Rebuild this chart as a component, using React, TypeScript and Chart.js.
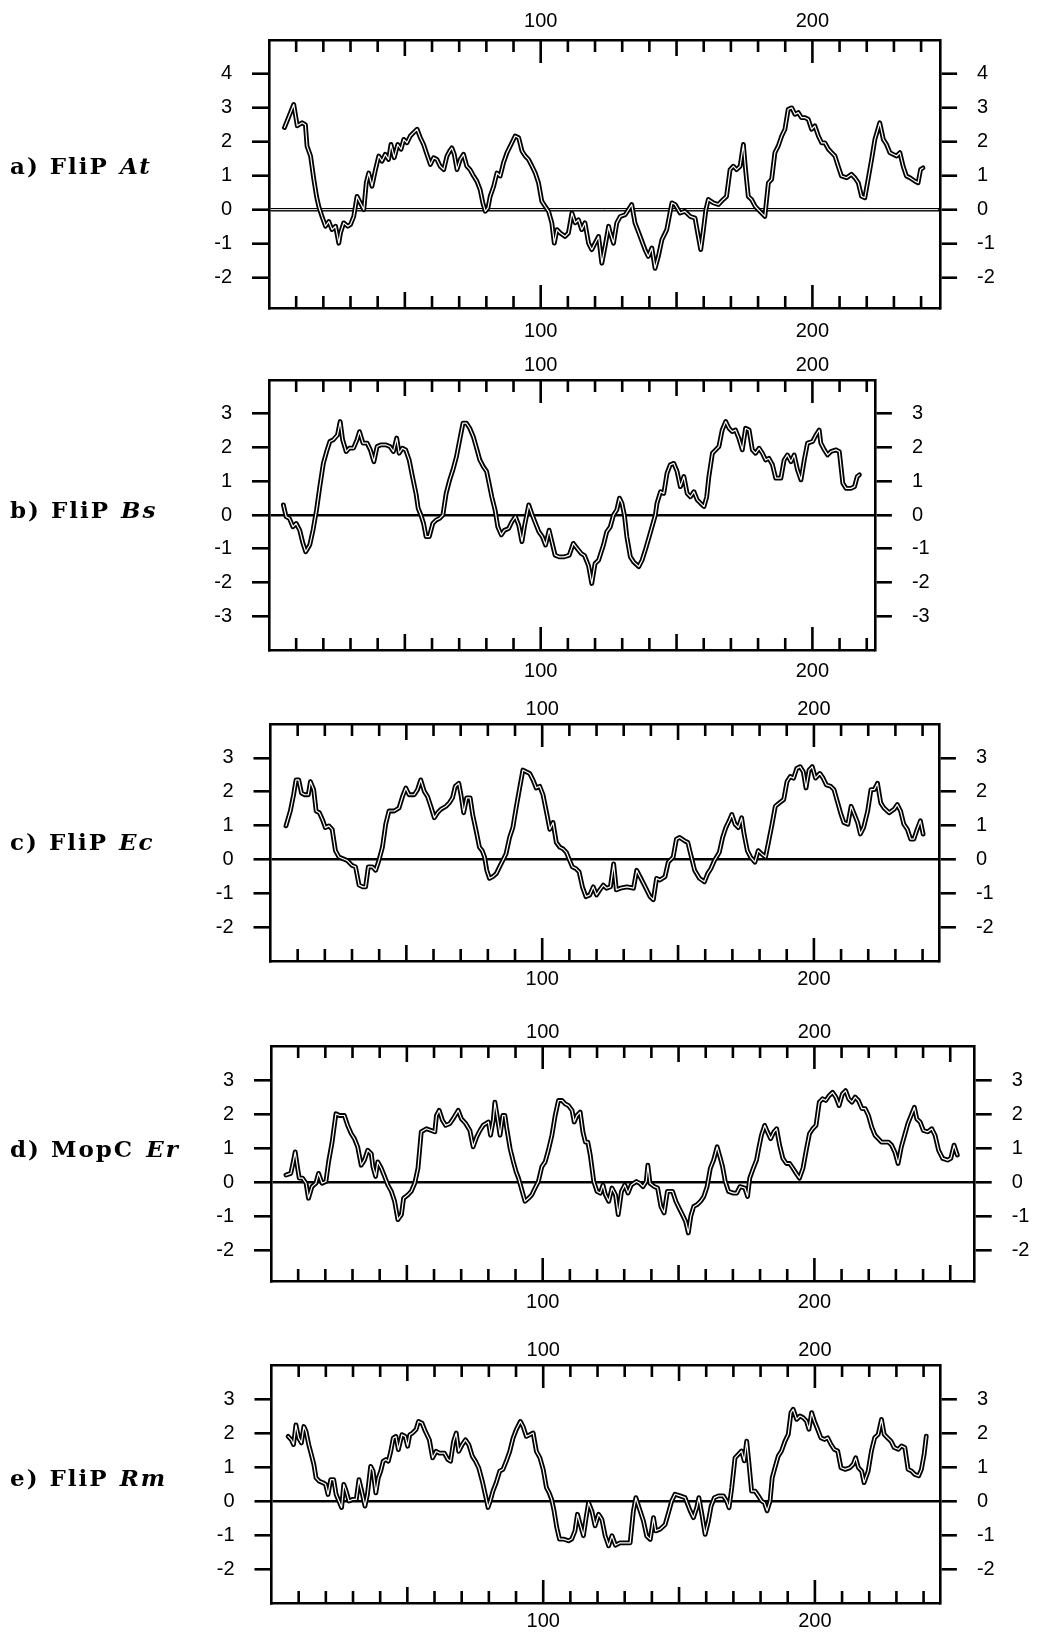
import { useEffect, useRef } from 'react';
import { Chart, registerables } from 'chart.js';

Chart.register(...registerables);

// ---------- data (residue number, hydropathy value) ----------
const aRes = [5.7, 9.1, 10.4, 12.2, 13.4, 14, 15.3, 16.5, 17.5, 18.3, 19.5, 20.8, 22, 23.2, 24.5, 25.7, 26.3, 27.5, 29, 30, 31.2, 32.4, 33.6, 34.9, 35.8, 36.7, 37.9, 39.2, 40.4, 41.6, 42.8, 44, 44.9, 46.1, 47.4, 48.6, 49.6, 50.8, 52, 53.2, 54.5, 55.7, 56.9, 58.1, 59.4, 60.6, 61.8, 63, 64.3, 65.5, 66.5, 67.3, 68.2, 69.2, 70.4, 71.6, 72.8, 74, 75.3, 76.5, 77.7, 78.7, 79.6, 80.6, 81.4, 82.7, 83.9, 85.1, 86.3, 87.6, 89.4, 90.6, 91.9, 93.1, 94.3, 95.5, 96.8, 98, 99.2, 100.4, 101.6, 102.9, 104.1, 105, 106, 107.2, 109, 110.2, 111.5, 112.7, 113.9, 115.1, 116.3, 117.6, 118.8, 120, 121.3, 122.5, 123.7, 125, 125.6, 126.8, 128, 129.3, 131.1, 133.5, 134.7, 136.6, 138.4, 139.6, 140.9, 142.1, 143.3, 144.6, 146.4, 148.3, 149.5, 151.3, 153.1, 155, 156.8, 158, 158.9, 159.9, 160.8, 161.7, 163.5, 165.4, 167.2, 168.4, 169.7, 170.9, 172.1, 173.4, 174.6, 175.4, 176.4, 177.6, 178.9, 180.7, 182.5, 183.8, 185, 186.2, 187.4, 188.7, 189.9, 191.1, 192.4, 193.6, 194.8, 196, 197.3, 198.5, 199.7, 200.9, 202.2, 203.4, 204.6, 205.9, 207.1, 208.3, 209.5, 210.7, 212.6, 214.4, 215.6, 216.9, 218.1, 219.3, 220.5, 221.8, 223, 224.8, 226.1, 227.3, 228.5, 229.7, 231, 232.2, 233.4, 234.6, 235.9, 237.7, 238.9, 239.8, 240.7];
const aVal = [2.42, 3.1, 2.47, 2.56, 2.5, 1.87, 1.58, 0.89, 0.39, 0.1, -0.2, -0.49, -0.35, -0.59, -0.49, -0.99, -0.69, -0.39, -0.49, -0.44, -0.2, 0.39, 0.2, 0, 0.79, 1.08, 0.69, 1.18, 1.58, 1.43, 1.63, 1.48, 1.92, 1.53, 1.92, 1.78, 2.07, 1.97, 2.17, 2.27, 2.37, 2.12, 1.92, 1.63, 1.33, 1.53, 1.48, 1.28, 1.18, 1.58, 1.73, 1.82, 1.63, 1.18, 1.48, 1.63, 1.28, 1.18, 0.99, 0.84, 0.59, 0.2, -0.05, 0.05, 0.39, 0.69, 1.08, 0.99, 1.38, 1.68, 1.97, 2.17, 2.12, 1.73, 1.58, 1.48, 1.28, 1.08, 0.79, 0.25, 0.1, -0.05, -0.39, -0.99, -0.59, -0.69, -0.79, -0.69, -0.1, -0.39, -0.3, -0.59, -0.39, -0.99, -1.18, -0.99, -0.79, -1.58, -1.08, -0.49, -0.69, -0.99, -0.39, -0.2, -0.15, 0.15, -0.39, -0.79, -1.18, -1.38, -1.13, -1.73, -1.38, -0.89, -0.59, 0.2, 0.15, -0.1, -0.05, -0.2, -0.25, -0.79, -1.18, -0.59, 0, 0.3, 0.2, 0.15, 0.3, 0.39, 1.18, 1.28, 1.18, 1.28, 1.92, 1.18, 0.39, 0.3, 0.1, -0.05, -0.2, 0.79, 0.89, 1.68, 1.87, 2.17, 2.37, 2.96, 3.0, 2.81, 2.86, 2.71, 2.71, 2.66, 2.37, 2.47, 2.17, 1.97, 1.97, 1.78, 1.68, 1.58, 1.28, 0.99, 0.94, 1.04, 0.94, 0.79, 0.39, 0.35, 0.89, 1.48, 2.07, 2.56, 2.07, 1.92, 1.68, 1.63, 1.58, 1.68, 1.28, 0.99, 0.94, 0.84, 0.79, 1.18, 1.23];

const bRes = [5.3, 6.3, 7.5, 8.8, 10, 11.3, 12.5, 13.5, 15, 16.2, 17.5, 18.7, 20, 21.2, 22.4, 23.7, 25.2, 26.2, 27.1, 28.4, 29.6, 31.1, 32.4, 33.3, 34.6, 36.1, 37.3, 38.6, 39.8, 41.3, 42.9, 44.5, 45.8, 47, 47.9, 49.1, 50.3, 51.6, 52.8, 54.1, 54.9, 55.9, 56.9, 57.8, 59, 60.3, 61.5, 62.8, 64, 65.2, 66.5, 67.7, 69, 70.2, 71.4, 72.7, 73.9, 75.2, 76.4, 77.6, 78.9, 80.1, 81, 82, 83.2, 84.2, 85.5, 86.7, 88.2, 89.4, 90.7, 91.9, 93.1, 94.1, 95.6, 96.9, 98.1, 99.3, 100.6, 101.8, 103.1, 104.1, 105.3, 106.8, 108.7, 110.5, 112, 113.5, 114.9, 116.1, 117.6, 118.8, 120, 121.3, 123.1, 124.3, 125.6, 126.8, 128, 129, 129.9, 130.8, 131.7, 133, 134.2, 136.1, 137.3, 138.5, 140.3, 142.2, 142.8, 144.1, 145.3, 146.5, 147.7, 149, 150.2, 151.4, 152.7, 153.9, 155.1, 156.4, 157.6, 158.8, 160.1, 161.1, 161.9, 163.2, 164.4, 165.6, 166.8, 168.1, 169.3, 170.5, 171.7, 172.9, 174.2, 175.4, 176.7, 177.9, 179.1, 180.4, 181.6, 182.8, 184, 185.3, 186.5, 188.4, 189.6, 190.8, 192.1, 193.3, 194.5, 195.8, 197, 198.2, 200.1, 201.3, 202.5, 203.1, 204.4, 205.6, 206.8, 208.7, 209.9, 211.2, 212.4, 214.2, 215.5, 216.5, 217.3];
const bVal = [0.3, -0.05, -0.1, -0.35, -0.25, -0.45, -0.84, -1.09, -0.89, -0.45, 0.15, 0.84, 1.53, 1.88, 2.18, 2.23, 2.37, 2.77, 2.23, 1.88, 1.98, 1.98, 2.23, 2.47, 2.13, 2.13, 1.93, 1.58, 2.03, 2.08, 2.08, 2.03, 1.88, 2.28, 1.83, 1.98, 1.93, 1.63, 1.14, 0.64, 0.2, 0, -0.25, -0.64, -0.64, -0.25, -0.15, -0.1, 0, 0.64, 1.04, 1.34, 1.73, 2.23, 2.72, 2.72, 2.57, 2.32, 1.98, 1.63, 1.43, 1.29, 0.94, 0.54, 0.15, -0.35, -0.59, -0.45, -0.4, -0.2, -0.05, -0.3, -0.79, -0.3, 0.3, 0, -0.25, -0.49, -0.64, -0.89, -0.45, -0.79, -1.19, -1.24, -1.24, -1.19, -0.84, -1.0, -1.14, -1.2, -1.5, -2.03, -1.44, -1.34, -0.89, -0.5, -0.35, 0, 0.15, 0.5, 0.35, 0, -0.64, -1.24, -1.39, -1.53, -1.34, -1.04, -0.54, 0, 0.35, 0.69, 0.64, 1.24, 1.49, 1.53, 1.29, 0.84, 1.14, 0.64, 0.54, 0.69, 0.45, 0.35, 0.25, 0.54, 1.14, 1.83, 1.93, 2.03, 2.52, 2.77, 2.57, 2.47, 2.52, 2.28, 1.93, 2.57, 2.52, 1.93, 1.83, 1.98, 1.83, 1.63, 1.68, 1.49, 1.09, 1.09, 1.63, 1.78, 1.58, 1.78, 1.34, 1.04, 1.63, 2.13, 2.18, 2.37, 2.52, 2.13, 1.93, 1.78, 1.88, 1.93, 1.88, 0.94, 0.79, 0.79, 0.84, 1.14, 1.19];

const cRes = [5.7, 7.3, 8.5, 9.4, 10.4, 11.4, 12.6, 13.9, 14.7, 15.9, 16.8, 18, 19.3, 20.2, 21.5, 22.7, 23.9, 25.2, 26.7, 28.2, 29.9, 31.3, 32.6, 34, 35, 36, 37.5, 38.7, 39.9, 41.2, 42.4, 43.6, 45.5, 47.3, 48.6, 49.8, 51, 52.9, 54.1, 55.3, 56.6, 57.8, 59, 60.3, 61.5, 62.7, 64.6, 65.8, 67, 68, 69.3, 70.1, 71.1, 72.2, 73.5, 74.4, 75.7, 76.9, 77.9, 78.8, 79.6, 80.6, 81.8, 83.1, 84.3, 85.5, 86.7, 88, 89.2, 90.4, 91.7, 92.9, 94.1, 95.4, 96.6, 97.8, 99.1, 100.3, 101.5, 102.8, 104, 105.2, 106.5, 107.7, 108.9, 110.1, 111.1, 112.4, 113.6, 114.8, 116.1, 117.5, 118.8, 120, 121.2, 122.5, 123.7, 125.1, 126.3, 127.3, 128.8, 131.2, 133.6, 134.8, 136, 137.9, 139.7, 140.9, 142.1, 143.3, 145.2, 146.4, 148.2, 149.4, 150.6, 152.4, 153.6, 154.9, 156.1, 157.9, 159.7, 160.9, 162.1, 163.4, 165.2, 166.4, 167.6, 168.8, 169.8, 171, 172.2, 173.4, 174.3, 175.5, 176.7, 178.3, 179.5, 180.7, 182.2, 183.4, 184.6, 185.8, 187.3, 188.9, 190.1, 191.3, 192.5, 193.7, 194.9, 196.1, 197.1, 198.2, 199.4, 200.6, 202.2, 203.4, 204.6, 206.2, 207.4, 208.6, 209.8, 211, 212.5, 213.7, 214.9, 216.1, 217.1, 218.3, 219.8, 221, 222.2, 223.4, 224.6, 225.8, 227.7, 229.5, 230.7, 231.9, 233.1, 234.4, 235.6, 236.8, 238, 239.2, 240.2];
const cVal = [0.99, 1.43, 1.91, 2.35, 2.35, 1.96, 1.91, 1.91, 2.3, 2.06, 1.43, 1.38, 1.14, 0.94, 0.99, 0.89, 0.26, 0.07, 0.02, -0.03, -0.17, -0.22, -0.76, -0.81, -0.81, -0.22, -0.22, -0.32, -0.03, 0.36, 1.04, 1.43, 1.43, 1.52, 1.86, 2.11, 1.91, 1.91, 2.06, 2.35, 2.01, 1.86, 1.57, 1.23, 1.38, 1.48, 1.57, 1.67, 1.82, 2.16, 2.25, 1.91, 1.38, 1.82, 1.82, 1.33, 0.84, 0.36, 0.26, 0.07, -0.32, -0.56, -0.51, -0.42, -0.22, -0.03, 0.17, 0.65, 0.94, 1.52, 2.11, 2.64, 2.59, 2.54, 2.35, 2.11, 2.16, 1.91, 1.43, 0.89, 1.09, 0.5, 0.36, 0.31, 0.21, -0.03, -0.22, -0.27, -0.37, -0.81, -1.1, -1.05, -0.81, -1.05, -0.9, -0.76, -0.85, -0.81, -0.13, -0.9, -0.85, -0.81, -0.85, -0.32, -0.51, -0.81, -1.1, -1.19, -0.56, -0.61, -0.51, -0.08, 0.07, 0.6, 0.65, 0.55, 0.5, 0.07, -0.32, -0.56, -0.66, -0.42, -0.27, -0.03, 0.21, 0.65, 0.94, 1.14, 1.33, 1.04, 0.94, 1.23, 0.75, 0.26, 0.07, -0.08, 0.26, 0.17, 0.07, 0.55, 1.04, 1.57, 1.67, 1.77, 2.3, 2.45, 2.4, 2.69, 2.74, 2.59, 2.11, 2.64, 2.74, 2.4, 2.54, 2.4, 2.2, 2.16, 2.06, 1.72, 1.38, 1.09, 1.04, 1.57, 1.33, 1.09, 0.75, 0.94, 1.43, 2.06, 2.06, 2.25, 1.67, 1.52, 1.38, 1.48, 1.62, 1.43, 1.04, 0.89, 0.6, 0.6, 0.89, 1.14, 0.75];

const dRes = [5.5, 7.3, 8.2, 8.9, 9.8, 10.4, 11.6, 12.9, 13.8, 15.1, 16.5, 17.5, 18.8, 20.2, 21.2, 22.5, 23.9, 25.2, 27, 28.2, 29.5, 30.7, 31.9, 33.2, 34.4, 35.6, 36.9, 37.5, 38.5, 39.3, 40.6, 41.8, 43, 44.3, 45.5, 46.7, 48, 48.8, 50.4, 51.6, 52.9, 54.1, 55.3, 57.2, 59, 60.3, 60.9, 61.9, 63.1, 64.3, 65.8, 67, 68.9, 70.1, 71.7, 73.2, 74.4, 75.7, 76.9, 78.1, 80, 80.8, 81.8, 82.4, 83.3, 84.3, 85.3, 86.1, 86.7, 88, 89.2, 90.2, 91.1, 92.3, 93.5, 94.8, 96, 97.2, 98.4, 99.7, 100.9, 102.1, 103.4, 104.6, 105.8, 107.1, 108.3, 109.5, 110.8, 111.6, 112.6, 113.8, 114.8, 115.7, 116.6, 117.5, 118.8, 120, 121.2, 122.2, 123.1, 124.3, 125.5, 126.8, 127.8, 129, 130.2, 131.4, 132.6, 134.5, 135.7, 136.9, 138.1, 138.7, 139.5, 141.1, 142.3, 143.5, 144.7, 145.9, 147.8, 149, 150.2, 151.4, 152.6, 153.6, 154.5, 155.6, 156.8, 158.1, 159.3, 160.5, 161.7, 162.9, 164.2, 165.4, 166.2, 167.2, 168.4, 170.2, 171.4, 172.6, 174.4, 175.4, 176.2, 177.5, 178.7, 179.5, 180.5, 181.7, 182.7, 183.9, 185.1, 186.1, 187.2, 188.4, 189.7, 190.9, 192.1, 193.3, 194.5, 195.8, 197, 198.2, 199.4, 200.6, 201.8, 203, 204.2, 205.4, 206.7, 207.9, 209.1, 210.3, 211.5, 212.6, 213.8, 215, 216.2, 217.5, 218.7, 219.9, 221.1, 222.3, 223.5, 224.7, 225.9, 227.2, 228.4, 229.6, 230.8, 232, 233.2, 234.4, 235.6, 236.8, 237.7, 238.9, 240.1, 241.7, 243.2, 244.4, 245.7, 247.2, 249, 250.2, 251.4, 252.6];
const dVal = [0.21, 0.26, 0.6, 0.89, 0.41, 0.12, 0.12, -0.03, -0.47, -0.13, -0.03, 0.26, -0.03, 0.02, 0.6, 1.18, 2.01, 1.96, 1.96, 1.67, 1.43, 1.28, 1.04, 0.5, 0.65, 0.94, 0.84, 0.46, 0.17, 0.6, 0.41, 0.17, -0.08, -0.27, -0.56, -1.1, -0.95, -0.47, -0.37, -0.27, -0.03, 0.41, 1.48, 1.57, 1.52, 1.48, 1.96, 2.11, 1.82, 1.67, 1.72, 1.86, 2.11, 1.86, 1.72, 1.52, 1.04, 1.33, 1.52, 1.67, 1.77, 1.38, 1.82, 2.35, 1.91, 1.38, 1.96, 1.96, 1.62, 0.99, 0.6, 0.31, 0.12, -0.22, -0.56, -0.47, -0.37, -0.17, 0.02, 0.46, 0.6, 0.94, 1.38, 1.96, 2.4, 2.4, 2.3, 2.25, 2.11, 1.77, 1.96, 2.06, 1.48, 1.18, 1.18, 0.8, 0.02, -0.27, -0.32, -0.08, -0.37, -0.56, -0.17, -0.37, -0.95, -0.27, -0.08, -0.32, -0.08, 0.02, -0.03, -0.13, 0.02, 0.5, -0.03, -0.13, -0.17, -0.71, -0.9, -0.27, -0.27, -0.56, -0.76, -0.95, -1.15, -1.49, -1.0, -0.71, -0.66, -0.56, -0.42, -0.13, 0.41, 0.65, 1.04, 0.7, 0.46, 0.02, -0.27, -0.32, -0.32, -0.13, -0.17, -0.42, 0.12, 0.41, 0.65, 0.99, 1.38, 1.67, 1.48, 1.28, 1.48, 1.57, 1.09, 0.7, 0.55, 0.55, 0.41, 0.26, 0.12, 0.41, 0.94, 1.43, 1.57, 1.67, 2.35, 2.45, 2.4, 2.54, 2.64, 2.5, 2.25, 2.59, 2.69, 2.45, 2.35, 2.5, 2.4, 2.16, 2.16, 1.96, 1.62, 1.38, 1.28, 1.18, 1.18, 1.18, 1.09, 0.89, 0.55, 1.04, 1.38, 1.72, 1.96, 2.2, 1.86, 1.77, 1.52, 1.48, 1.57, 1.38, 0.94, 0.7, 0.65, 0.7, 1.09, 0.8];

const eRes = [6.1, 7.3, 8.1, 9, 10, 11, 11.9, 12.7, 13.7, 14.7, 15.6, 16.4, 17.6, 18.9, 19.9, 20.8, 21.8, 22.9, 23.8, 24.8, 25.8, 26.6, 27.5, 28.5, 30, 31.2, 32.2, 33.2, 34.4, 35.3, 36.5, 37.4, 38.4, 39.3, 40.2, 41.1, 42.1, 43, 43.9, 44.8, 45.8, 46.7, 48, 49.2, 50.1, 50.9, 51.9, 53.2, 54.1, 55.4, 56.6, 58.1, 59.3, 60.6, 61.8, 63.6, 64.9, 65.9, 67, 68, 68.9, 70.2, 71.4, 72.6, 73.9, 75.1, 76.3, 77.6, 78.8, 79.7, 80.5, 81.5, 82.7, 84, 85.2, 86.4, 87.7, 88.9, 90.1, 91.6, 92.6, 93.8, 95.1, 96.3, 97.5, 98.8, 100, 101.2, 102.2, 103.1, 104, 105, 106, 107.4, 109.3, 110.5, 111.7, 112.6, 113.6, 114.8, 115.8, 116.7, 117.9, 119.1, 120.4, 121.6, 122.8, 124.1, 125.3, 126.6, 128.3, 130.1, 132, 133.2, 134.1, 135.3, 136.9, 138.1, 139.4, 140.6, 141.4, 143, 144.9, 146.3, 147.3, 148.5, 150.4, 152.2, 154.1, 155.3, 156.5, 157.3, 158.4, 159.6, 160.8, 161.8, 163, 164.5, 166.3, 167.5, 168.4, 169.4, 170.6, 171.8, 173, 174, 174.9, 175.7, 176.7, 178, 179.2, 180.4, 181.4, 182.4, 183.5, 184.3, 185.3, 186.5, 187.7, 189, 190.2, 191.2, 192, 193.3, 194.5, 195.7, 196.9, 197.8, 198.8, 199.8, 201, 202.2, 203.5, 204.7, 205.9, 207.1, 208.4, 209.6, 211.1, 212.9, 214.1, 215, 216, 217.2, 218.1, 219.6, 220.8, 222, 223.3, 224.5, 225.5, 226.7, 228, 229.2, 230.7, 231.9, 233.1, 234.3, 235.6, 236.8, 238.2, 239.2, 240.2, 241];
const eVal = [1.9, 1.8, 1.66, 2.24, 1.85, 1.71, 2.19, 2.05, 1.66, 1.36, 1.07, 0.68, 0.58, 0.54, 0.49, 0.19, 0.63, 0.63, 0.19, 0, -0.19, 0.49, 0.29, 0, 0.05, 0.05, 0.63, 0.29, -0.15, 0.19, 1.02, 0.88, 0.24, 0.68, 0.88, 1.17, 1.22, 1.17, 1.46, 1.85, 1.9, 1.51, 1.95, 1.9, 1.61, 1.95, 2.0, 2.1, 2.34, 2.29, 2.05, 1.8, 1.27, 1.46, 1.41, 1.41, 1.22, 1.17, 1.75, 2.0, 1.46, 1.66, 1.8, 1.66, 1.32, 1.17, 0.97, 0.58, 0.15, -0.19, 0, 0.29, 0.54, 0.88, 0.93, 1.17, 1.46, 1.85, 2.1, 2.34, 2.19, 1.9, 1.95, 2.0, 1.46, 1.27, 0.93, 0.39, 0.24, 0.05, -0.29, -0.78, -1.12, -1.12, -1.17, -1.12, -0.88, -0.39, -0.68, -1.02, -0.49, -0.05, -0.29, -0.73, -0.39, -0.54, -1.02, -1.32, -1.02, -1.3, -1.23, -1.23, -1.23, -0.29, 0.1, -0.2, -0.59, -1.03, -1.13, -0.49, -0.88, -0.83, -0.69, -0.29, 0, 0.2, 0.15, 0.1, -0.29, -0.49, -0.2, 0.1, -0.39, -0.98, -0.59, -0.15, 0.1, 0.15, 0.15, 0, -0.2, 0.39, 1.27, 1.37, 1.47, 1.18, 1.76, 1.13, 0.29, 0.29, 0.15, 0, -0.05, -0.29, 0, 0.69, 0.98, 1.32, 1.47, 1.76, 1.96, 2.6, 2.7, 2.4, 2.5, 2.45, 2.35, 2.11, 2.6, 2.35, 2.11, 1.86, 1.81, 1.86, 1.67, 1.52, 1.47, 0.98, 0.93, 0.98, 1.08, 1.27, 0.98, 0.88, 0.54, 0.88, 1.47, 1.86, 1.96, 2.4, 1.96, 1.86, 1.76, 1.57, 1.52, 1.62, 1.57, 0.93, 0.88, 0.78, 0.74, 0.93, 1.37, 1.91];

// y tick labels per panel
const aYTicks = [4, 3, 2, 1, 0, -1, -2];
const bYTicks = [3, 2, 1, 0, -1, -2, -3];
const cYTicks = [3, 2, 1, 0, -1, -2];
const dYTicks = [3, 2, 1, 0, -1, -2];
const eYTicks = [3, 2, 1, 0, -1, -2];

// x tick labels (residue numbers)
const xLabelTicks = [100, 200];

// panel captions
const captions = [
  { prefix: 'a) FliP', species: 'At', gap: 11 },
  { prefix: 'b) FliP', species: 'Bs', gap: 11 },
  { prefix: 'c) FliP', species: 'Ec', gap: 11 },
  { prefix: 'd) MopC', species: 'Er', gap: 12 },
  { prefix: 'e) FliP', species: 'Rm', gap: 11 },
];

// ---------- layout ----------
const PAGE_W = 1038;
const PX_PER_RES = 2.717;
const TOP_AXIS_H = 40;
const BOTTOM_AXIS_H = 34;

type PanelCfg = {
  res: number[];
  val: number[];
  yTicks: number[];
  yMin: number;
  yMax: number;
  xMax: number;
  boxTop: number;
  boxBottom: number;
  boxLeft: number;
  topPad: number;
  botPad: number;
  labelY: number;
  zeroCore: boolean;
};

const panels: PanelCfg[] = [
  { res: aRes, val: aVal, yTicks: aYTicks, yMin: -2.9, yMax: 5, xMax: 247, boxTop: 40, boxBottom: 308, boxLeft: 269, topPad: 7, botPad: 11, labelY: 166, zeroCore: true },
  { res: bRes, val: bVal, yTicks: bYTicks, yMin: -4, yMax: 4, xMax: 223, boxTop: 380, boxBottom: 650, boxLeft: 269, topPad: 3, botPad: 9, labelY: 510, zeroCore: false },
  { res: cRes, val: cVal, yTicks: cYTicks, yMin: -3, yMax: 4, xMax: 246, boxTop: 724, boxBottom: 961, boxLeft: 270.5, topPad: 3, botPad: 6, labelY: 842, zeroCore: false },
  { res: dRes, val: dVal, yTicks: dYTicks, yMin: -2.9, yMax: 4, xMax: 259, boxTop: 1046, boxBottom: 1281, boxLeft: 271, topPad: 2, botPad: 9, labelY: 1149, zeroCore: false },
  { res: eRes, val: eVal, yTicks: eYTicks, yMin: -3, yMax: 4, xMax: 246, boxTop: 1365, boxBottom: 1603, boxLeft: 271.5, topPad: 3, botPad: 6, labelY: 1478, zeroCore: false },
];

const tickFont = { family: "'Liberation Sans', Arial, sans-serif", size: 20 };

const innerTicksPlugin = {
  id: 'innerTicks',
  beforeDatasetsDraw(chart: any, _args: any, opts: any) {
    if (!opts || !opts.zeroCore) return;
    const { ctx, chartArea } = chart;
    const y0 = chart.scales.y.getPixelForValue(0);
    ctx.save();
    ctx.strokeStyle = '#fff';
    ctx.lineWidth = 1;
    ctx.beginPath();
    ctx.moveTo(chartArea.left + 2, y0);
    ctx.lineTo(chartArea.right - 2, y0);
    ctx.stroke();
    ctx.restore();
  },
  afterDraw(chart: any) {
    const { ctx, chartArea } = chart;
    const xs = chart.scales.x;
    ctx.save();
    ctx.strokeStyle = '#000';
    ctx.lineWidth = 2.6;
    ctx.lineCap = 'butt';
    for (let v = 10; v < xs.max; v += 10) {
      const len = v % 100 === 0 ? 23 : v % 50 === 0 ? 16 : 12;
      const px = xs.getPixelForValue(v);
      ctx.beginPath();
      ctx.moveTo(px, chartArea.top);
      ctx.lineTo(px, chartArea.top + len);
      ctx.moveTo(px, chartArea.bottom);
      ctx.lineTo(px, chartArea.bottom - len);
      ctx.stroke();
    }
    ctx.restore();
  },
};

function PanelChart({ cfg }: { cfg: PanelCfg }) {
  const ref = useRef<HTMLCanvasElement | null>(null);
  const boxRight = cfg.boxLeft + cfg.xMax * PX_PER_RES;
  const canvasTop = cfg.boxTop - TOP_AXIS_H;
  const canvasH = cfg.boxBottom - cfg.boxTop + TOP_AXIS_H + BOTTOM_AXIS_H;

  useEffect(() => {
    if (!ref.current) return;
    const pts = cfg.res.map((r, i) => ({ x: r, y: cfg.val[i] }));
    const xAxis = (pos: 'top' | 'bottom', pad: number, h: number) => ({
      type: 'linear',
      position: pos,
      min: 0,
      max: cfg.xMax,
      afterBuildTicks: (axis: any) => {
        axis.ticks = xLabelTicks.map((v) => ({ value: v }));
      },
      ticks: { font: tickFont, color: '#000', padding: pad, maxRotation: 0, autoSkip: false },
      grid: { display: true, drawOnChartArea: false, drawTicks: false },
      border: { display: true, color: '#000', width: 2.6 },
      afterFit: (s: any) => {
        s.height = h;
      },
    });
    const yAxis = (pos: 'left' | 'right', w: number, main: boolean) => ({
      type: 'linear',
      position: pos,
      min: cfg.yMin,
      max: cfg.yMax,
      afterBuildTicks: (axis: any) => {
        axis.ticks = cfg.yTicks.map((v) => ({ value: v }));
      },
      ticks: { font: tickFont, color: '#000', padding: 20 },
      grid: {
        display: true,
        drawOnChartArea: main,
        color: (c: any) => (c.tick && c.tick.value === 0 ? '#000' : 'rgba(0,0,0,0)'),
        lineWidth: cfg.zeroCore ? 3.4 : 2.6,
        drawTicks: true,
        tickLength: 17,
        tickColor: '#000',
        tickWidth: 2.6,
      },
      border: { display: true, color: '#000', width: 2.6 },
      afterFit: (s: any) => {
        s.width = w;
      },
    });

    const lineStyle = { pointRadius: 0, tension: 0, borderJoinStyle: 'round', borderCapStyle: 'round' };
    const chart = new Chart(ref.current, {
      type: 'line',
      data: {
        datasets: [
          { data: pts, borderColor: '#000', borderWidth: 4.8, order: 1, ...lineStyle } as any,
          { data: pts, borderColor: '#fff', borderWidth: 1.2, order: 0, ...lineStyle } as any,
        ],
      },
      options: {
        responsive: false,
        animation: false,
        layout: { padding: 0 },
        plugins: {
          legend: { display: false },
          tooltip: { enabled: false },
          innerTicks: { zeroCore: cfg.zeroCore },
        } as any,
        scales: {
          x: xAxis('bottom', cfg.botPad, BOTTOM_AXIS_H),
          x2: xAxis('top', cfg.topPad, TOP_AXIS_H),
          y: yAxis('left', cfg.boxLeft, true),
          y2: yAxis('right', PAGE_W - boxRight, false),
        } as any,
      },
      plugins: [innerTicksPlugin as any],
    });
    return () => chart.destroy();
  }, [cfg, boxRight]);

  return (
    <canvas
      ref={ref}
      width={PAGE_W}
      height={canvasH}
      style={{ position: 'absolute', left: 0, top: canvasTop, width: PAGE_W, height: canvasH }}
    />
  );
}

export default function App() {
  return (
    <div
      style={{
        position: 'absolute',
        left: 0,
        top: 0,
        width: PAGE_W,
        height: 1637,
        overflow: 'hidden',
        background: '#fff',
      }}
    >
      {panels.map((p, i) => (
        <PanelChart key={i} cfg={p} />
      ))}
      {panels.map((p, i) => (
        <div
          key={'l' + i}
          style={{
            position: 'absolute',
            left: 10,
            top: p.labelY - 15,
            height: 30,
            lineHeight: '30px',
            fontFamily: "'DejaVu Serif', 'Liberation Serif', serif",
            fontWeight: 'bold',
            fontSize: 23,
            letterSpacing: 2,
            whiteSpace: 'nowrap',
            color: '#000',
          }}
        >
          <span>{captions[i].prefix}</span>
          <span style={{ fontStyle: 'italic', marginLeft: captions[i].gap }}>{captions[i].species}</span>
        </div>
      ))}
    </div>
  );
}
